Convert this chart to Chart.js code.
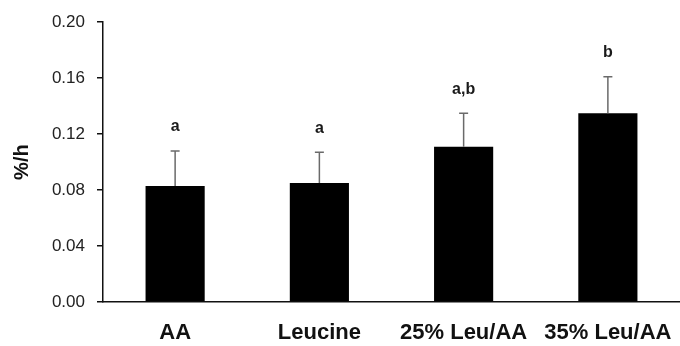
<!DOCTYPE html>
<html>
<head>
<meta charset="utf-8">
<script src="https://cdn.jsdelivr.net/npm/chart.js@4/dist/chart.umd.min.js"></script>
<style>
  html, body { margin: 0; padding: 0; background: #fff; }
  #wrap { width: 680px; height: 346px; }
</style>
</head>
<body>
<div id="wrap"><canvas id="barChart" width="680" height="346"></canvas></div>
<script>
// values
var categories = ['AA', 'Leucine', '25% Leu/AA', '35% Leu/AA'];
var rates = [0.083, 0.085, 0.111, 0.135];
var sdUpper = [0.025, 0.022, 0.024, 0.026];
var letters = ['a', 'a', 'a,b', 'b'];
var yTicks = [0, 0.04, 0.08, 0.12, 0.16, 0.20];

var FONT = "'Liberation Sans', Arial, Helvetica, sans-serif";

// upper error whiskers + significance letters
var errorBars = {
    id: 'errorBars',
    afterDatasetsDraw: function(chart) {
        var ctx = chart.ctx;
        var meta = chart.getDatasetMeta(0);
        var yScale = chart.scales.y;
        ctx.save();
        for (var i = 0; i < rates.length; i++) {
            var bar = meta.data[i];
            var top = yScale.getPixelForValue(rates[i] + sdUpper[i]);
            ctx.strokeStyle = '#6a6a6a';
            ctx.lineWidth = 1.5;
            ctx.beginPath();
            ctx.moveTo(bar.x, bar.y);
            ctx.lineTo(bar.x, top);
            ctx.moveTo(bar.x - 4.5, top);
            ctx.lineTo(bar.x + 4.5, top);
            ctx.stroke();

            ctx.fillStyle = '#1a1a1a';
            ctx.font = 'bold 16px ' + FONT;
            ctx.textAlign = 'center';
            ctx.textBaseline = 'middle';
            ctx.fillText(letters[i], bar.x, top - 24);
        }
        ctx.restore();
    }
};

new Chart(document.getElementById('barChart'), {
    type: 'bar',
    data: {
        labels: categories,
        datasets: [{
            label: '%/h',
            data: rates,
            backgroundColor: '#000',
            borderWidth: 0,
            barPercentage: 0.41,
            categoryPercentage: 1
        }]
    },
    options: {
        responsive: false,
        animation: false,
        events: [],
        layout: { padding: { top: 22, right: 0, left: 0, bottom: 0 } },
        plugins: {
            legend: { display: false },
            tooltip: { enabled: false }
        },
        scales: {
            x: {
                // ticks hidden, but tickLength still pushes the labels down
                grid: { display: false, drawTicks: true, tickLength: 15 },
                border: { display: true, color: '#111', width: 1.5 },
                ticks: {
                    color: '#111',
                    padding: 3,
                    maxRotation: 0,
                    autoSkip: false,
                    font: { family: FONT, size: 22, weight: 'bold' }
                },
                afterFit: function(scale) { scale.height = 44; }
            },
            y: {
                min: 0,
                max: 0.2,
                afterBuildTicks: function(scale) {
                    scale.ticks = yTicks.map(function(v) { return { value: v }; });
                },
                grid: {
                    drawOnChartArea: false,
                    drawTicks: true,
                    tickLength: 6,
                    color: '#111',
                    tickColor: '#111',
                    lineWidth: 1.5
                },
                border: { display: true, color: '#111', width: 1.5 },
                ticks: {
                    color: '#222',
                    padding: 12,
                    font: { family: FONT, size: 17 },
                    callback: function(v) { return Number(v).toFixed(2); }
                },
                title: {
                    display: true,
                    text: '%/h',
                    color: '#111',
                    padding: { top: 10, bottom: 0 },
                    font: { family: FONT, size: 20, weight: 'bold' }
                },
                afterFit: function(scale) { scale.width = 103; }
            }
        }
    },
    plugins: [errorBars]
});
</script>
</body>
</html>
